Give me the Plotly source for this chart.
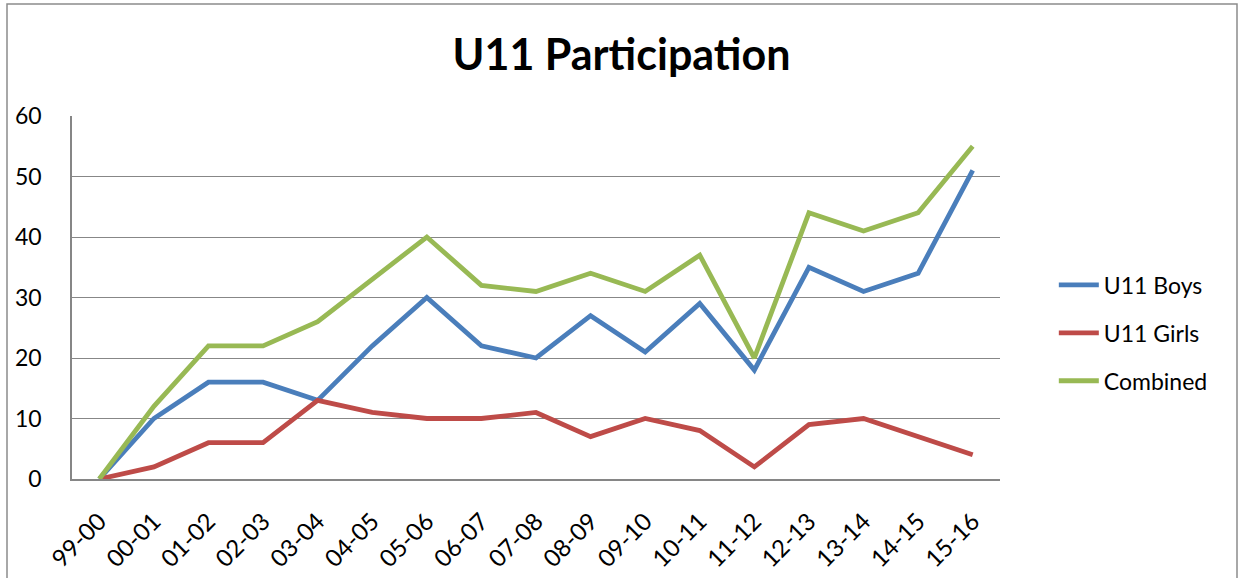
import plotly.graph_objects as go

seasons = ["99-00", "00-01", "01-02", "02-03", "03-04", "04-05", "05-06", "06-07",
           "07-08", "08-09", "09-10", "10-11", "11-12", "12-13", "13-14", "14-15", "15-16"]
boys = [0, 10, 16, 16, 13, 22, 30, 22, 20, 27, 21, 29, 18, 35, 31, 34, 51]
girls = [0, 2, 6, 6, 13, 11, 10, 10, 11, 7, 10, 8, 2, 9, 10, 7, 4]
combined = [0, 12, 22, 22, 26, 33, 40, 32, 31, 34, 31, 37, 20, 44, 41, 44, 55]

series = [("U11 Boys", boys, "#4A7EBB"),
          ("U11 Girls", girls, "#BE4B48"),
          ("Combined", combined, "#98B954")]

FONT = "Lato"
fig = go.Figure()
for i, (name, vals, col) in enumerate(series):
    fig.add_trace(go.Scatter(x=seasons, y=vals, name=name, mode="lines",
                             line=dict(color=col, width=4.8),
                             legendgroup=f"g{i}"))

fig.update_layout(
    width=1242, height=578,
    margin=dict(l=72, r=242, t=116, b=99, autoexpand=False),
    paper_bgcolor="white", plot_bgcolor="white",
    font=dict(family=FONT, color="black", size=23),
    title=dict(text="<b>U11 Participation</b>", x=(453 + 790) / 2 / 1242, xref="container",
               y=1 - 55 / 578, yref="container", yanchor="middle", xanchor="center",
               font=dict(family=FONT, size=43, color="black")),
    showlegend=True,
    legend=dict(x=1.058, y=(479 - 333) / 363, xanchor="left", yanchor="middle",
                traceorder="grouped", tracegroupgap=15,
                font=dict(family=FONT, size=23, color="black"),
                bgcolor="rgba(0,0,0,0)", itemwidth=40),
    xaxis=dict(type="category", showgrid=False, showline=True, linecolor="#868686",
               linewidth=1.5, tickangle=-45, ticks="outside", ticklen=0,
               tickfont=dict(family=FONT, size=24), range=[-0.5, 16.5],
               ticklabelstandoff=17, automargin=False),
    yaxis=dict(range=[0, 60], dtick=10, showgrid=True, gridcolor="#878787", gridwidth=1.4,
               showline=True, linecolor="#868686", linewidth=1.5, zeroline=False,
               ticks="outside", ticklen=0, ticklabelstandoff=24,
               tickfont=dict(family=FONT, size=23), automargin=False),
)

fig.add_shape(type="rect", xref="paper", yref="paper",
              x0=(7 - 72) / 928, x1=(1237 - 72) / 928,
              y0=(479 - 582) / 363, y1=(479 - 4) / 363,
              line=dict(color="#8C8C8C", width=1.5), fillcolor="rgba(0,0,0,0)", layer="below")

fig.write_html("out.html", config={"displayModeBar": False},
               post_script="document.body.style.margin='0';document.body.style.overflow='hidden';")
